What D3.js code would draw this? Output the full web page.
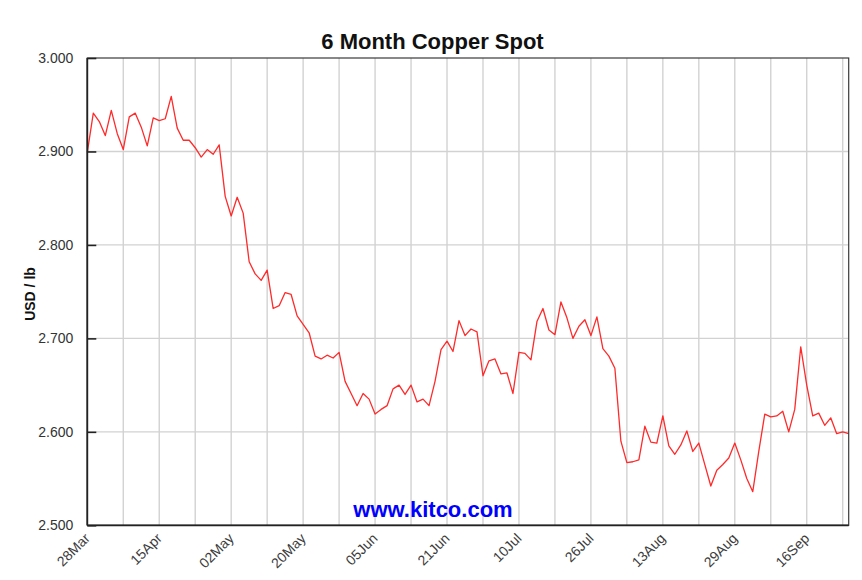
<!DOCTYPE html>
<html>
<head>
<meta charset="utf-8">
<script src="https://cdn.jsdelivr.net/npm/d3@7"></script>
<style>
  html, body { margin: 0; padding: 0; background: #fff; }
  svg { display: block; }
</style>
</head>
<body>
<svg id="chart" width="862" height="580"></svg>
<script>
// Copper spot price, USD/lb, one value per trading day (28 Mar – late Sep)
const prices = [
  2.899, 2.941, 2.932, 2.917, 2.944, 2.919, 2.902, 2.937, 2.941, 2.926,
  2.906, 2.936, 2.933, 2.935, 2.959, 2.925, 2.912, 2.912, 2.904, 2.894,
  2.902, 2.897, 2.907, 2.852, 2.831, 2.851, 2.834, 2.782, 2.769, 2.762,
  2.773, 2.732, 2.735, 2.749, 2.747, 2.724, 2.715, 2.706, 2.681, 2.678,
  2.682, 2.679, 2.685, 2.654, 2.641, 2.628, 2.641, 2.635, 2.619, 2.624,
  2.628, 2.646, 2.650, 2.640, 2.650, 2.632, 2.635, 2.628, 2.654, 2.688,
  2.697, 2.686, 2.719, 2.703, 2.710, 2.707, 2.660, 2.676, 2.678, 2.662,
  2.663, 2.641, 2.685, 2.684, 2.677, 2.718, 2.732, 2.709, 2.704, 2.739,
  2.722, 2.700, 2.713, 2.720, 2.703, 2.723, 2.689, 2.681, 2.668, 2.590,
  2.567, 2.568, 2.570, 2.606, 2.589, 2.588, 2.617, 2.585, 2.576, 2.586,
  2.601, 2.579, 2.588, 2.565, 2.542, 2.559, 2.565, 2.572, 2.588, 2.570,
  2.550, 2.536, 2.579, 2.619, 2.616, 2.617, 2.622, 2.600, 2.624, 2.691,
  2.650, 2.617, 2.620, 2.607, 2.615, 2.598, 2.600, 2.598
];
// x tick labels: every 12th trading day
const xTickLabels = ["28Mar", "15Apr", "02May", "20May", "05Jun", "21Jun",
                     "10Jul", "26Jul", "13Aug", "29Aug", "16Sep"];
const xTickStep = 12;
const xGridStep = 6;
const yTicks = [2.5, 2.6, 2.7, 2.8, 2.9, 3.0];
const yDomain = [2.5, 3.0];
const titleText = "6 Month Copper Spot";
const yLabelText = "USD / lb";
const watermark = "www.kitco.com";

const svg = d3.select("#chart");
const L = 87.3, R = 848.7, T = 58, B = 525.3;

const x = d3.scaleLinear().domain([0, prices.length - 1]).range([L, R]);
const y = d3.scaleLinear().domain(yDomain).range([B, T]);

const font = "'Liberation Sans', Arial, Helvetica, sans-serif";

// vertical grid
const gridIdx = d3.range(xGridStep, prices.length, xGridStep);
svg.append("g").selectAll("line").data(gridIdx).join("line")
  .attr("x1", d => x(d)).attr("x2", d => x(d))
  .attr("y1", T).attr("y2", B)
  .attr("stroke", "#d2d2d2").attr("stroke-width", 1.4);

// horizontal grid
svg.append("g").selectAll("line").data(yTicks.slice(1, -1)).join("line")
  .attr("x1", L).attr("x2", R)
  .attr("y1", d => y(d)).attr("y2", d => y(d))
  .attr("stroke", "#d2d2d2").attr("stroke-width", 1.4);

// price line
const line = d3.line().x((d, i) => x(i)).y(d => y(d));
svg.append("path").datum(prices)
  .attr("d", line)
  .attr("fill", "none")
  .attr("stroke", "#ff2a2a")
  .attr("stroke-width", 1.3)
  .attr("stroke-linejoin", "round");

// frame
svg.append("rect")
  .attr("x", L).attr("y", T).attr("width", R - L).attr("height", B - T)
  .attr("fill", "none").attr("stroke", "#3a3a3a").attr("stroke-width", 1.2);
svg.append("line").attr("x1", L).attr("x2", L).attr("y1", T).attr("y2", B)
  .attr("stroke", "#222").attr("stroke-width", 1.8);
svg.append("line").attr("x1", L).attr("x2", R).attr("y1", B).attr("y2", B)
  .attr("stroke", "#222").attr("stroke-width", 1.8);

// y axis
const yAxis = d3.axisLeft(y).tickValues(yTicks).tickFormat(d3.format(".3f"))
  .tickSize(-9).tickPadding(14);
const gy = svg.append("g").attr("transform", `translate(${L},0)`).call(yAxis);
gy.select(".domain").remove();
gy.selectAll(".tick line").attr("stroke", "#222").attr("stroke-width", 1.6);
gy.selectAll(".tick text")
  .attr("fill", "#333").style("font-family", font).style("font-size", "14px");

// x axis
const xTickIdx = xTickLabels.map((_, i) => i * xTickStep);
const xAxis = d3.axisBottom(x).tickValues(xTickIdx)
  .tickFormat((d, i) => xTickLabels[i]).tickSize(0).tickPadding(0);
const gx = svg.append("g").attr("transform", `translate(0,${B})`).call(xAxis);
gx.select(".domain").remove();
gx.selectAll(".tick text")
  .attr("fill", "#3c3c3c").style("font-family", font).style("font-size", "14px")
  .attr("text-anchor", "end")
  .attr("dy", null).attr("y", 0)
  .attr("transform", "translate(3,14) rotate(-45)");

// title
svg.append("text").attr("x", 432.5).attr("y", 48.5)
  .attr("text-anchor", "middle")
  .style("font-family", font).style("font-size", "22px").style("font-weight", "bold")
  .attr("fill", "#111").text(titleText);

// y label
svg.append("text")
  .attr("transform", "translate(35,294) rotate(-90)")
  .attr("text-anchor", "middle")
  .style("font-family", font).style("font-size", "14px").style("font-weight", "bold")
  .attr("fill", "#111").text(yLabelText);

// watermark
svg.append("text").attr("x", 433).attr("y", 516.5)
  .attr("text-anchor", "middle")
  .style("font-family", font).style("font-size", "22px").style("font-weight", "bold")
  .attr("fill", "#0000ff").text(watermark);
</script>
</body>
</html>
